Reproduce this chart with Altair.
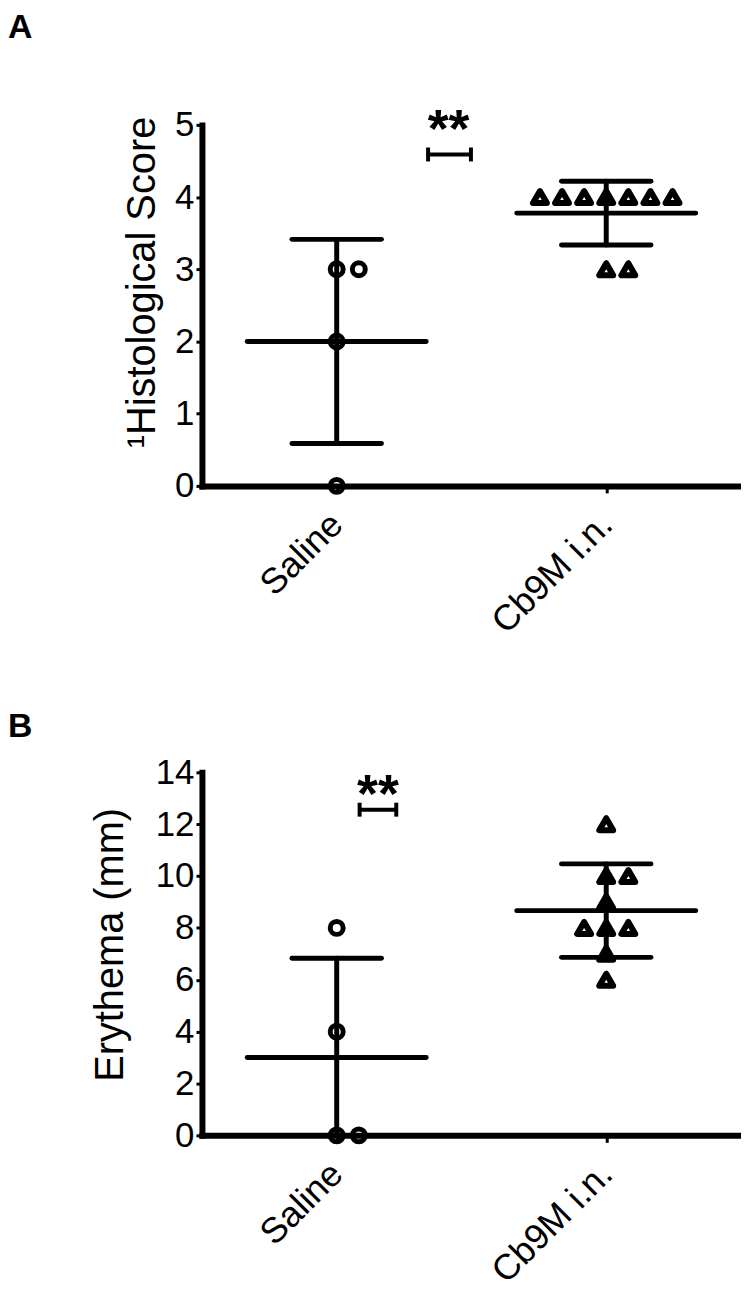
import altair as alt
import pandas as pd

FONT = "Liberation Sans"
GROUPS = ["Saline", "Cb9M i.n."]

# Panel A: histological score per animal
HIST_SALINE = [0, 2, 3, 3]
HIST_SALINE_SLOT = [0, 0, 0, 1]
HIST_CB9M = [4, 4, 4, 4, 4, 4, 4, 3, 3]
HIST_CB9M_SLOT = [-3, -2, -1, 0, 1, 2, 3, 0, 1]
HIST_TICKS = [0, 1, 2, 3, 4, 5]

# Panel B: erythema (mm) per animal
ERY_SALINE = [8, 4, 0, 0]
ERY_SALINE_SLOT = [0, 0, 0, 1]
ERY_CB9M = [12, 10, 10, 9, 8, 8, 8, 7, 6]
ERY_CB9M_SLOT = [0, 0, 1, 0, -1, 0, 1, 0, 0]
ERY_TICKS = [0, 2, 4, 6, 8, 10, 12, 14]

# significance annotations (x in group units: Saline = 0, Cb9M i.n. = 1)
HIST_SIG = {"x1": 0.339, "x2": 0.498, "y": 4.59, "star_x": 0.415, "star_y": 4.70, "text": "**"}
ERY_SIG = {"x1": 0.085, "x2": 0.221, "y": 12.56, "star_x": 0.153, "star_y": 12.47, "text": "**"}

SLOT_W = 0.082
MEAN_HW = 0.332
CAP_HW = 0.166


def make_df(sal, sal_slot, cb, cb_slot):
    rows = []
    for gi, (vals, slots) in enumerate([(sal, sal_slot), (cb, cb_slot)]):
        for v, s in zip(vals, slots):
            rows.append({"group": GROUPS[gi], "gi": gi, "value": v, "slot": s})
    return pd.DataFrame(rows)


AXIS_STYLE = dict(domainColor="black", tickColor="black", labelColor="black",
                  titleColor="black", labelFont=FONT, titleFont=FONT,
                  domainWidth=6, domainCap="square", tickWidth=3, grid=False,
                  labelFlush=False, labelOverlap=False)


def panel(df, ticks, ytitle, title_x, title_y, plot_h, sig, letter, letter_y):
    yscale = alt.Scale(domain=[0, ticks[-1]], nice=False, zero=True)
    xscale = alt.Scale(domain=[-0.5, 1.5], nice=False, zero=False)
    label_expr = "datum.value < 0.5 ? '%s' : '%s'" % (GROUPS[0], GROUPS[1])
    xaxis = alt.Axis(values=[0, 1], labelExpr=label_expr, title=None,
                     labelAngle=-45, labelAlign="right", labelBaseline="middle",
                     labelPadding=26, labelFontSize=36, tickSize=7, **AXIS_STYLE)
    yaxis = alt.Axis(values=ticks, title=ytitle, titleX=title_x, titleY=title_y,
                     titleAngle=270, titleAlign="center", titleBaseline="alphabetic",
                     titleFontSize=40, titleFontWeight="normal",
                     labelFontSize=35, labelPadding=2, tickSize=6, **AXIS_STYLE)

    def X(f):
        return alt.X(f, type="quantitative", scale=xscale, axis=xaxis)

    def Y(f):
        return alt.Y(f, type="quantitative", scale=yscale, axis=yaxis)

    base = alt.Chart(df).transform_calculate(xpos=f"datum.gi + datum.slot * {SLOT_W}")
    circles = base.transform_filter("datum.gi == 0").mark_point(
        shape="circle", filled=False, size=169, strokeWidth=5, color="black", opacity=1
    ).encode(x=X("xpos"), y=Y("value"))
    tris = base.transform_filter("datum.gi == 1").mark_point(
        shape="triangle-up", filled=False, size=196, strokeWidth=6, strokeJoin="round",
        color="black", opacity=1
    ).encode(x=X("xpos"), y=Y("value"))

    stats = alt.Chart(df).transform_aggregate(
        m="mean(value)", sd="stdev(value)", groupby=["gi"]
    ).transform_calculate(
        lo="datum.m - datum.sd", hi="datum.m + datum.sd",
        mx1=f"datum.gi - {MEAN_HW}", mx2=f"datum.gi + {MEAN_HW}",
        cx1=f"datum.gi - {CAP_HW}", cx2=f"datum.gi + {CAP_HW}",
    )
    rk = dict(color="black", strokeWidth=5, strokeCap="round", clip=True)
    mean_rule = stats.mark_rule(**rk).encode(x=X("mx1"), x2="mx2:Q", y=Y("m"))
    vert = stats.mark_rule(**rk).encode(x=X("gi"), y=Y("lo"), y2="hi:Q")
    cap_hi = stats.mark_rule(**rk).encode(x=X("cx1"), x2="cx2:Q", y=Y("hi"))
    cap_lo = stats.mark_rule(**rk).encode(x=X("cx1"), x2="cx2:Q", y=Y("lo"))

    sig_base = alt.Chart(pd.DataFrame([sig]))
    bracket = sig_base.mark_rule(color="black", strokeWidth=4).encode(
        x=X("x1"), x2="x2:Q", y=Y("y"))
    ends = sig_base.transform_fold(["x1", "x2"], as_=["end", "ex"]).mark_tick(
        orient="vertical", size=14, thickness=4, color="black", opacity=1
    ).encode(x=X("ex"), y=Y("y"))
    stars = sig_base.mark_text(
        fontSize=54, fontWeight="bold", font=FONT, baseline="alphabetic",
        align="center", color="black"
    ).encode(x=X("star_x"), y=Y("star_y"), text="text:N")

    letter_layer = alt.Chart(pd.DataFrame({"t": [letter]})).mark_text(
        align="left", baseline="top", fontSize=34, fontWeight="bold", font=FONT,
        color="black"
    ).encode(x=alt.value(-195), y=alt.value(letter_y), text="t:N")

    return alt.layer(circles, tris, mean_rule, vert, cap_hi, cap_lo,
                     bracket, ends, stars, letter_layer).properties(width=542, height=plot_h)


hist_df = make_df(HIST_SALINE, HIST_SALINE_SLOT, HIST_CB9M, HIST_CB9M_SLOT)
ery_df = make_df(ERY_SALINE, ERY_SALINE_SLOT, ERY_CB9M, ERY_CB9M_SLOT)

panel_a = panel(hist_df, HIST_TICKS, "\u00b9Histological Score", -48, 158, 363, HIST_SIG, "A", -114)
panel_b = panel(ery_df, ERY_TICKS, "Erythema (mm)", -80, 173, 365, ERY_SIG, "B", -63)

chart = alt.vconcat(panel_a, panel_b, spacing=70).properties(padding=0).configure_view(
    stroke=None
)

chart.save("out.html", embed_options={"renderer": "svg", "actions": False})
